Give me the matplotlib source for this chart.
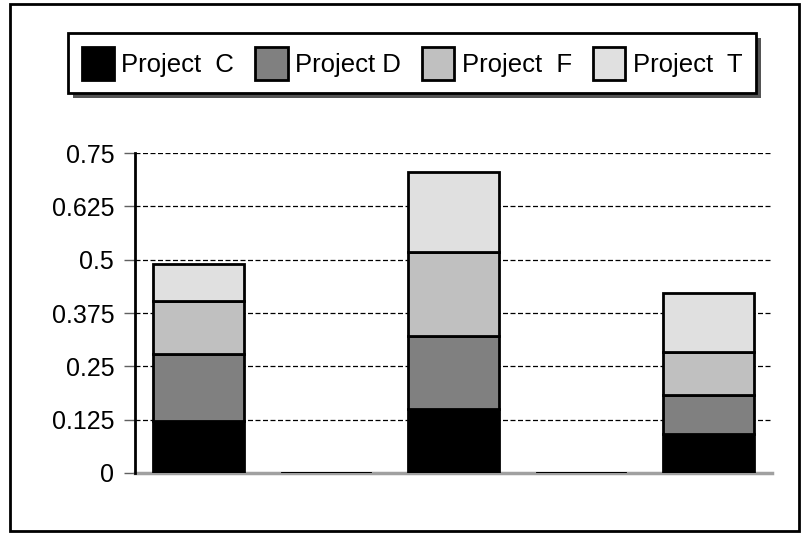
import matplotlib
matplotlib.use("Agg")
import matplotlib.pyplot as plt
from matplotlib.patches import Rectangle
import numpy as np

plt.rcParams['font.family'] = ['Liberation Sans', 'DejaVu Sans']

# data
categories = ['1', '2', '3', '4', '5']
project_c = [0.122, 0.0, 0.150, 0.0, 0.092]
project_d = [0.157, 0.0, 0.170, 0.0, 0.091]
project_f = [0.124, 0.0, 0.197, 0.0, 0.100]
project_t = [0.088, 0.0, 0.188, 0.0, 0.140]
series_names = ['Project  C', 'Project D', 'Project  F', 'Project  T']
colors = ['#000000', '#808080', '#c0c0c0', '#e0e0e0']
yticks = [0, 0.125, 0.25, 0.375, 0.5, 0.625, 0.75]
ytick_labels = ['0', '0.125', '0.25', '0.375', '0.5', '0.625', '0.75']

fig = plt.figure(figsize=(8.02, 5.33), dpi=100)
ax = fig.add_axes([0.1683, 0.1126, 0.7943, 0.6003])

x = np.arange(len(categories))
bottom = np.zeros(len(categories))
handles = []
for name, vals, col in zip(series_names, [project_c, project_d, project_f, project_t], colors):
    b = ax.bar(x, vals, width=0.71, bottom=bottom, color=col, edgecolor='black',
               linewidth=2, label=name, zorder=3)
    handles.append(b)
    bottom += np.array(vals)

ax.set_xlim(-0.5, len(categories) - 0.5)
ax.set_ylim(0, 0.75)
ax.set_yticks(yticks)
ax.set_yticklabels(ytick_labels, fontsize=18)
ax.set_xticks([])
ax.tick_params(axis='y', length=8, width=1, color='#606060', pad=7)
ax.yaxis.grid(True, linestyle=(0, (4, 2)), color='black', linewidth=0.9, zorder=0)
ax.set_axisbelow(True)
for s in ['top', 'right']:
    ax.spines[s].set_visible(False)
ax.spines['left'].set_linewidth(2)
ax.spines['left'].set_color('black')
ax.spines['bottom'].set_linewidth(2.5)
ax.spines['bottom'].set_color('#a0a0a0')
ax.spines['bottom'].set_zorder(2)

leg = fig.legend(handles=handles, loc='upper left', bbox_to_anchor=(68 / 802, 1 - 33 / 533),
                 ncol=4, fontsize=18.5, frameon=True, fancybox=False, edgecolor='black',
                 facecolor='white', framealpha=1,
                 handlelength=1.25, handleheight=1.6, handletextpad=0.3,
                 columnspacing=0.82, borderpad=0.53, borderaxespad=0)
leg.get_frame().set_linewidth(2)
leg.set_zorder(5)

fig.canvas.draw()
bb = leg.get_window_extent()
shadow = Rectangle((bb.x0 + 5, bb.y0 - 5), bb.width, bb.height, transform=None,
                   facecolor='#555555', edgecolor='none', zorder=4)
fig.add_artist(shadow)

# outer border
fig.add_artist(Rectangle((10 / 802, 2 / 533), 789 / 802, 527 / 533, transform=fig.transFigure,
                         fill=False, edgecolor='black', linewidth=2))

fig.savefig('out.png', dpi=100)
